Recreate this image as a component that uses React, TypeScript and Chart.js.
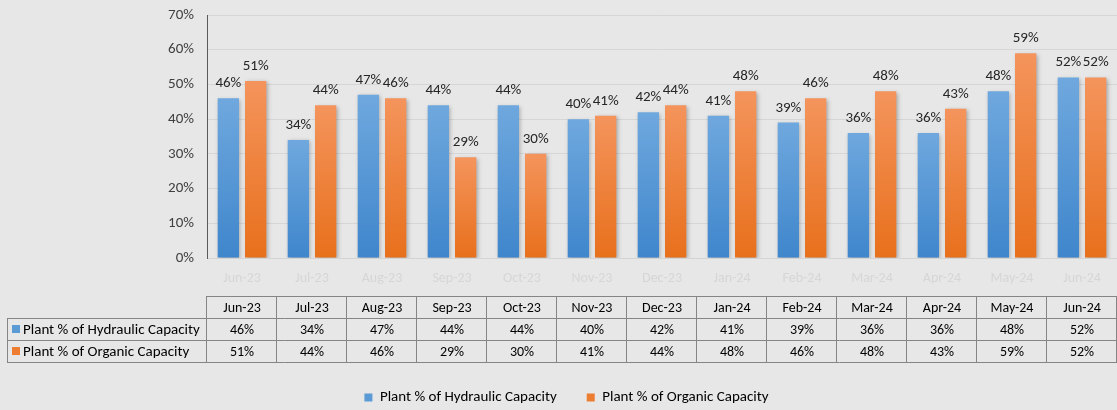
import React, { useEffect, useRef } from "react";
import { Chart, registerables } from "chart.js";

Chart.register(...registerables);

const categories = ["Jun-23", "Jul-23", "Aug-23", "Sep-23", "Oct-23", "Nov-23", "Dec-23", "Jan-24", "Feb-24", "Mar-24", "Apr-24", "May-24", "Jun-24"];
const hydraulic = [46, 34, 47, 44, 44, 40, 42, 41, 39, 36, 36, 48, 52];
const organic = [51, 44, 46, 29, 30, 41, 44, 48, 46, 48, 43, 59, 52];
const seriesNames = ["Plant % of Hydraulic Capacity", "Plant % of Organic Capacity"];

const FONT = "Carlito, Lato, 'Open Sans', sans-serif";
const BG = "#e7e7e7";
const BLUE = "#5b9bd5";
const ORANGE = "#ed7d31";
const BOTTOM_PAD = -5;
const LEFT_PAD = 16;

function gradFor(ctx: any, top: string, bottom: string) {
  const chart = ctx.chart;
  const y = chart.scales && chart.scales.y;
  if (!y || ctx.type !== "data") return bottom;
  const v = ctx.raw as number;
  const y0 = y.getPixelForValue(v);
  const y1 = y.getPixelForValue(0);
  if (!isFinite(y0) || !isFinite(y1) || y0 === y1) return bottom;
  const g = chart.ctx.createLinearGradient(0, y0, 0, y1);
  g.addColorStop(0, top);
  g.addColorStop(1, bottom);
  return g;
}

const bgPlugin = {
  id: "bgFill",
  beforeDraw(chart: any) {
    const { ctx, width, height } = chart;
    ctx.save();
    ctx.fillStyle = BG;
    ctx.fillRect(0, 0, width, height);
    ctx.restore();
  },
};

const shadowPlugin = {
  id: "barShadow",
  beforeDatasetsDraw(chart: any) {
    const ctx = chart.ctx;
    ctx.save();
    ctx.shadowColor = "rgba(0,0,0,0.28)";
    ctx.shadowBlur = 4;
    ctx.shadowOffsetX = 1.5;
    ctx.shadowOffsetY = 1.5;
  },
  afterDatasetsDraw(chart: any) {
    chart.ctx.restore();
  },
};

const labelPlugin = {
  id: "valueLabels",
  afterDatasetsDraw(chart: any) {
    const ctx = chart.ctx;
    ctx.save();
    ctx.font = `15px ${FONT}`;
    ctx.fillStyle = "#262626";
    ctx.textAlign = "center";
    ctx.textBaseline = "alphabetic";
    chart.data.datasets.forEach((ds: any, di: number) => {
      const meta = chart.getDatasetMeta(di);
      meta.data.forEach((bar: any, i: number) => {
        ctx.fillText(`${ds.data[i]}%`, bar.x, bar.y - 11);
      });
    });
    ctx.restore();
  },
};

const tablePlugin = {
  id: "dataTable",
  afterDraw(chart: any) {
    const ctx = chart.ctx;
    const x = chart.scales.x;
    const n = categories.length;
    const step = x.getPixelForValue(1) - x.getPixelForValue(0);
    const left = x.getPixelForValue(0) - step / 2;
    const right = x.getPixelForValue(n - 1) + step / 2;
    const labelLeft = 7;
    const rowY = [296, 318, 340, 362];
    ctx.save();
    ctx.strokeStyle = "#858585";
    ctx.lineWidth = 1;
    ctx.beginPath();
    ctx.moveTo(left, rowY[0] + 0.5);
    ctx.lineTo(right, rowY[0] + 0.5);
    for (let r = 1; r < rowY.length; r++) {
      ctx.moveTo(labelLeft, rowY[r] + 0.5);
      ctx.lineTo(right, rowY[r] + 0.5);
    }
    for (let i = 0; i <= n; i++) {
      const xx = Math.round(left + i * step) - 0.5;
      ctx.moveTo(xx, rowY[0]);
      ctx.lineTo(xx, rowY[3] + 1);
    }
    ctx.moveTo(labelLeft + 0.5, rowY[1]);
    ctx.lineTo(labelLeft + 0.5, rowY[3] + 1);
    ctx.stroke();

    ctx.font = `14px ${FONT}`;
    ctx.fillStyle = "#000000";
    ctx.textBaseline = "middle";
    ctx.textAlign = "center";
    const rowsData = [hydraulic, organic];
    for (let i = 0; i < n; i++) {
      const cx = x.getPixelForValue(i);
      ctx.fillText(categories[i], cx, (rowY[0] + rowY[1]) / 2 + 1);
      rowsData.forEach((arr, r) => {
        ctx.fillText(`${arr[i]}%`, cx, (rowY[r + 1] + rowY[r + 2]) / 2 + 1);
      });
    }
    const colors = [BLUE, ORANGE];
    ctx.textAlign = "left";
    ctx.font = `15px ${FONT}`;
    seriesNames.forEach((name, r) => {
      const cy = (rowY[r + 1] + rowY[r + 2]) / 2;
      ctx.fillStyle = colors[r];
      ctx.fillRect(12, cy - 4, 8, 8);
      ctx.fillStyle = "#000000";
      ctx.fillText(name, 23, cy + 1);
    });
    ctx.restore();
  },
};

export default function App() {
  const ref = useRef<HTMLCanvasElement | null>(null);
  useEffect(() => {
    document.body.style.margin = "0";
    document.body.style.background = BG;
    if (!ref.current) return;
    const chart = new Chart(ref.current, {
      type: "bar",
      data: {
        labels: categories,
        datasets: [
          {
            label: seriesNames[0],
            data: hydraulic,
            backgroundColor: (c: any) => gradFor(c, "#6fa8de", "#3f86cc"),
            borderWidth: 0,
            categoryPercentage: 0.78,
            barPercentage: 0.78,
          },
          {
            label: seriesNames[1],
            data: organic,
            backgroundColor: (c: any) => gradFor(c, "#f4945c", "#e8701c"),
            borderWidth: 0,
            categoryPercentage: 0.78,
            barPercentage: 0.78,
          },
        ],
      },
      options: {
        animation: false,
        responsive: false,
        maintainAspectRatio: false,
        layout: { padding: { top: 15, left: LEFT_PAD, right: 0, bottom: BOTTOM_PAD } },
        plugins: {
          legend: {
            position: "bottom",
            labels: {
              boxWidth: 8,
              boxHeight: 8,
              padding: 30,
              color: "#000000",
              font: { family: FONT, size: 15 },
              generateLabels: (chart: any) =>
                chart.data.datasets.map((ds: any, i: number) => ({
                  text: ds.label,
                  fillStyle: i === 0 ? BLUE : ORANGE,
                  strokeStyle: i === 0 ? BLUE : ORANGE,
                  lineWidth: 0,
                  hidden: false,
                  datasetIndex: i,
                  fontColor: "#000000",
                })),
            },
          },
          tooltip: { enabled: false },
        },
        scales: {
          x: {
            grid: { display: false },
            border: { display: true, color: "#d4d4d4" },
            ticks: { color: "#d6d6d6", font: { family: FONT, size: 14 }, padding: 4 },
            afterFit: (s: any) => {
              const lh = s.chart.legend ? s.chart.legend.height : 0;
              s.height = s.chart.height - BOTTOM_PAD - 258 - lh;
              s.paddingLeft = 0;
              s.paddingRight = 0;
            },
          },
          y: {
            min: 0,
            max: 70,
            ticks: {
              stepSize: 10,
              color: "#404040",
              font: { family: FONT, size: 15 },
              padding: 13,
              callback: (v: any) => `${v}%`,
            },
            grid: { color: "#d6d6d6", drawTicks: false },
            border: { display: true, color: "#5a5a5a" },
            afterFit: (s: any) => {
              s.width = 207 - LEFT_PAD;
              s.paddingTop = 0;
              s.paddingBottom = 0;
            },
          },
        },
      },
      plugins: [bgPlugin, shadowPlugin, labelPlugin, tablePlugin],
    });
    return () => chart.destroy();
  }, []);
  return <canvas ref={ref} width={1117} height={410} style={{ display: "block" }} />;
}
